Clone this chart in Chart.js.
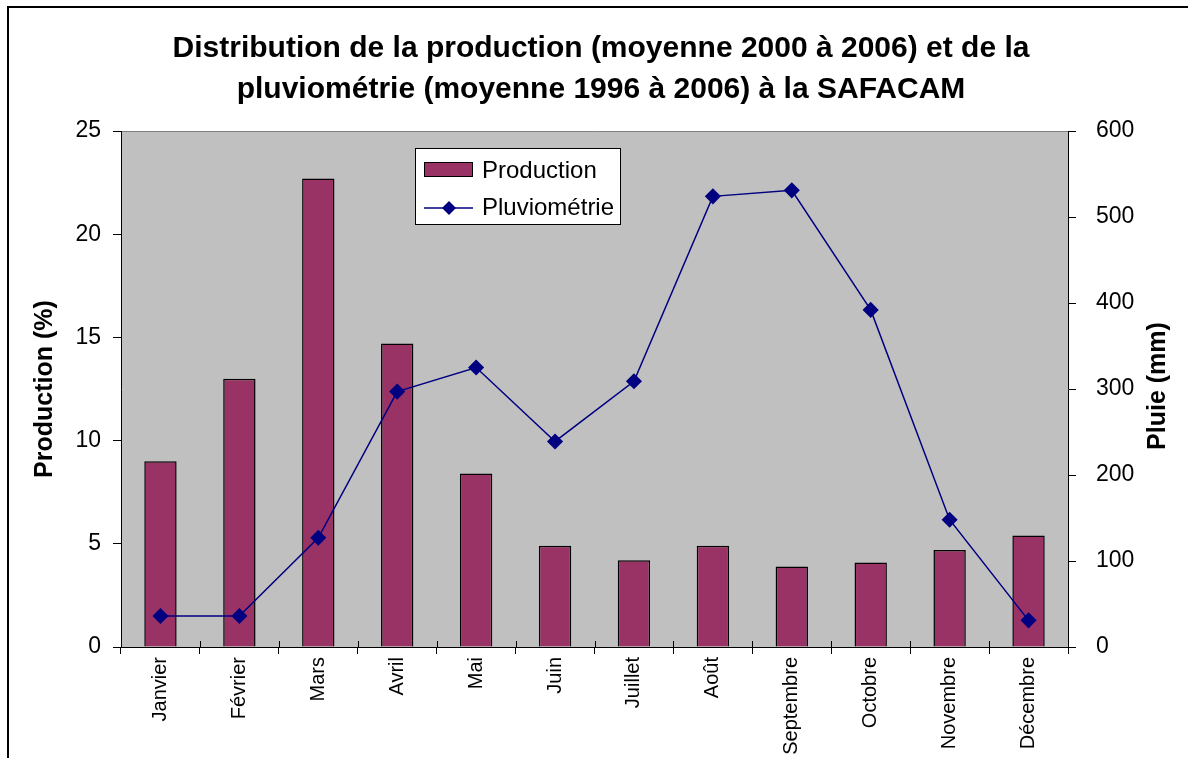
<!DOCTYPE html>
<html>
<head>
<meta charset="utf-8">
<script src="https://cdn.jsdelivr.net/npm/chart.js@4"></script>
<style>
  html, body { margin: 0; padding: 0; background: #fff; }
  #wrap { width: 1188px; height: 758px; }
</style>
</head>
<body>
<div id="wrap"><canvas id="chart" width="1188" height="758"></canvas></div>
<script>
// data
const months = ['Janvier', 'Février', 'Mars', 'Avril', 'Mai', 'Juin', 'Juillet', 'Août', 'Septembre', 'Octobre', 'Novembre', 'Décembre'];
const production = [9.0, 13.0, 22.7, 14.7, 8.4, 4.9, 4.2, 4.9, 3.9, 4.1, 4.7, 5.4];
const pluie = [36, 36, 127, 297, 325, 239, 309, 524, 531, 392, 148, 31];
const titleLines = ['Distribution de la production (moyenne 2000 à 2006) et de la', 'pluviométrie (moyenne 1996 à 2006) à la SAFACAM'];

const font = '"Liberation Sans", Arial, sans-serif';
const barColor = '#993366';
const lineColor = '#000080';

// frame, plot background, title, legend and crossing x ticks
const decor = {
  id: 'decor',
  beforeDraw(chart) {
    const ctx = chart.ctx;
    const a = chart.chartArea;
    ctx.save();
    ctx.fillStyle = '#fff';
    ctx.fillRect(0, 0, chart.width, chart.height);
    ctx.strokeStyle = '#000';
    ctx.lineWidth = 2;
    ctx.strokeRect(8, 7, 1300, 900);
    ctx.fillStyle = '#c0c0c0';
    ctx.fillRect(a.left, a.top, a.right - a.left, a.bottom - a.top);
    ctx.strokeStyle = '#808080';
    ctx.lineWidth = 1;
    ctx.beginPath();
    ctx.moveTo(a.left, a.top + 0.5);
    ctx.lineTo(a.right, a.top + 0.5);
    ctx.stroke();
    ctx.fillStyle = '#000';
    ctx.font = 'bold 30px ' + font;
    ctx.textAlign = 'center';
    ctx.textBaseline = 'middle';
    ctx.fillText(titleLines[0], 601, 49);
    ctx.fillText(titleLines[1], 601, 90);
    // right axis title, reads bottom to top like the left one
    ctx.translate(1158, 386);
    ctx.rotate(-Math.PI / 2);
    ctx.font = 'bold 25px ' + font;
    ctx.fillText('Pluie (mm)', 0, 0);
    ctx.restore();
  },
  afterDraw(chart) {
    const ctx = chart.ctx;
    const a = chart.chartArea;
    ctx.save();
    // x ticks also reach up into the plot
    ctx.strokeStyle = '#000';
    ctx.lineWidth = 1;
    ctx.beginPath();
    for (let i = 0; i <= months.length; i++) {
      const px = Math.round(a.left + i * (a.right - a.left) / months.length) + 0.5;
      ctx.moveTo(px, a.bottom);
      ctx.lineTo(px, a.bottom - 6);
    }
    ctx.stroke();
    // legend
    ctx.fillStyle = '#fff';
    ctx.fillRect(415, 148, 205, 76);
    ctx.strokeStyle = '#000';
    ctx.strokeRect(415.5, 148.5, 205, 76);
    ctx.fillStyle = barColor;
    ctx.fillRect(424, 162, 49, 15);
    ctx.strokeRect(424.5, 162.5, 48, 14);
    ctx.strokeStyle = lineColor;
    ctx.lineWidth = 1.5;
    ctx.beginPath();
    ctx.moveTo(424, 208);
    ctx.lineTo(473, 208);
    ctx.stroke();
    ctx.fillStyle = lineColor;
    ctx.beginPath();
    ctx.moveTo(449, 201);
    ctx.lineTo(456, 208);
    ctx.lineTo(449, 215);
    ctx.lineTo(442, 208);
    ctx.closePath();
    ctx.fill();
    ctx.fillStyle = '#000';
    ctx.font = '24px ' + font;
    ctx.textAlign = 'left';
    ctx.textBaseline = 'middle';
    ctx.fillText('Production', 482, 171);
    ctx.fillText('Pluviométrie', 482, 208);
    ctx.restore();
  }
};

const ctx = document.getElementById('chart').getContext('2d');
new Chart(ctx, {
  data: {
    labels: months,
    datasets: [
      {
        type: 'line',
        label: 'Pluviométrie',
        data: pluie,
        yAxisID: 'y1',
        borderColor: lineColor,
        backgroundColor: lineColor,
        borderWidth: 1.5,
        pointStyle: 'rectRot',
        pointRadius: 7,
        pointHoverRadius: 7,
        tension: 0,
        order: 0
      },
      {
        type: 'bar',
        label: 'Production',
        data: production,
        yAxisID: 'y',
        backgroundColor: barColor,
        borderColor: '#000',
        borderWidth: 1.5,
        barPercentage: 0.41,
        categoryPercentage: 1,
        order: 1
      }
    ]
  },
  options: {
    responsive: false,
    animation: false,
    layout: { padding: { top: 131, left: 0, right: 0, bottom: 0 } },
    plugins: { legend: { display: false }, title: { display: false }, tooltip: { enabled: false } },
    scales: {
      x: {
        grid: { display: true, offset: true, drawOnChartArea: false, drawTicks: true, tickLength: 7, tickColor: '#000' },
        border: { display: true, color: '#000', width: 1 },
        ticks: { color: '#000', font: { family: font, size: 20 }, minRotation: 90, maxRotation: 90, padding: 3, autoSkip: false },
        afterFit(s) { s.height = 111; }
      },
      y: {
        position: 'left',
        min: 0, max: 25,
        grid: { drawOnChartArea: false, tickLength: 8, tickColor: '#000' },
        border: { color: '#000', width: 1 },
        ticks: { stepSize: 5, color: '#000', font: { family: font, size: 23 }, padding: 12 },
        title: { display: true, text: 'Production (%)', color: '#000', font: { family: font, size: 25, weight: 'bold' }, padding: { top: 30 } },
        afterFit(s) { s.width = 121; }
      },
      y1: {
        position: 'right',
        min: 0, max: 600,
        grid: { drawOnChartArea: false, tickLength: 8, tickColor: '#000' },
        border: { color: '#000', width: 1 },
        ticks: { stepSize: 100, color: '#000', font: { family: font, size: 23 }, padding: 20 },
        afterFit(s) { s.width = 120; }
      }
    }
  },
  plugins: [decor]
});
</script>
</body>
</html>
